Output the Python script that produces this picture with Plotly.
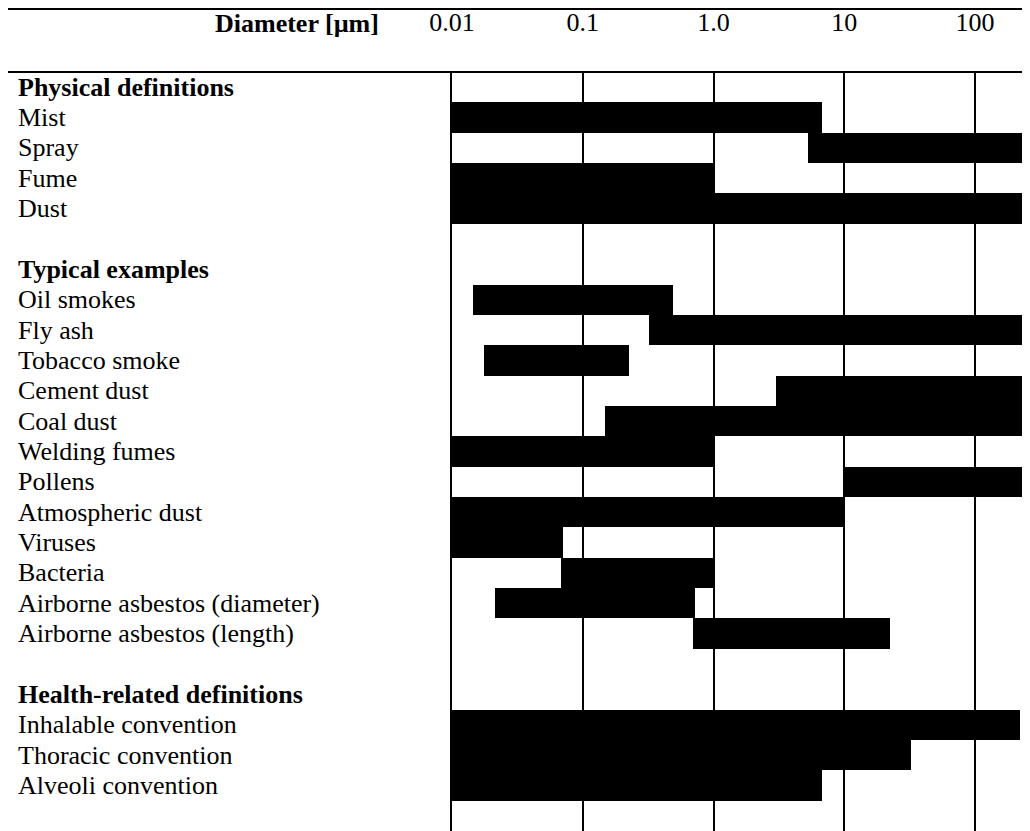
import plotly.graph_objects as go

# size ranges in micrometres; 1000 = open-ended (beyond the chart edge)
physical_names = ["Mist", "Spray", "Fume", "Dust"]
physical_low = [0.01, 5.3, 0.01, 0.01]
physical_high = [6.7, 1000, 1.0, 1000]

example_names = ["Oil smokes", "Fly ash", "Tobacco smoke", "Cement dust", "Coal dust",
                 "Welding fumes", "Pollens", "Atmospheric dust", "Viruses", "Bacteria",
                 "Airborne asbestos (diameter)", "Airborne asbestos (length)"]
example_low = [0.0145, 0.32, 0.0176, 3.0, 0.148, 0.01, 10, 0.01, 0.01, 0.068, 0.0214, 0.70]
example_high = [0.49, 1000, 0.225, 1000, 1000, 1.0, 1000, 10, 0.071, 1.0, 0.72, 22.3]

health_names = ["Inhalable convention", "Thoracic convention", "Alveoli convention"]
health_low = [0.01, 0.01, 0.01]
health_high = [220, 32.3, 6.7]

section_titles = ["Physical definitions", "Typical examples", "Health-related definitions"]

tick_vals = [0.01, 0.1, 1, 10, 100]
tick_text = ["0.01", "0.1", "1.0", "10", "100"]

FONT = "Times New Roman, Liberation Serif, serif"

# build rows: section title, items, blank row
labels, bold, lows, highs = [], [], [], []
for title, names, lo, hi in zip(section_titles,
                                [physical_names, example_names, health_names],
                                [physical_low, example_low, health_low],
                                [physical_high, example_high, health_high]):
    labels.append(title); bold.append(True); lows.append(None); highs.append(None)
    for n, a, b in zip(names, lo, hi):
        labels.append(n); bold.append(False); lows.append(a); highs.append(b)
    labels.append(""); bold.append(False); lows.append(None); highs.append(None)

rows = list(range(len(labels)))
bar_y = [r for r in rows if lows[r] is not None]
bar_base = [lows[r] for r in bar_y]
bar_len = [highs[r] - lows[r] for r in bar_y]

fig = go.Figure()
fig.add_trace(go.Bar(y=bar_y, x=bar_len, base=bar_base, orientation="h",
                     width=1.0, marker=dict(color="black", line=dict(width=0)),
                     hoverinfo="skip", showlegend=False))

# page body adds an 8px offset, so the figure is 8px smaller on each axis
W, H = 1022, 823
top = 64
for r, (lab, b) in enumerate(zip(labels, bold)):
    if not lab:
        continue
    fig.add_annotation(x=8 / W, xref="paper", y=r, yref="y", xanchor="left",
                       text=f"<b>{lab}</b>" if b else lab, showarrow=False,
                       font=dict(family=FONT, size=26, color="black"))

fig.add_annotation(x=289 / W, xref="paper", y=1 + (top - 16) / (H - top), yref="paper",
                   xanchor="center", yanchor="middle", text="<b>Diameter [µm]</b>",
                   showarrow=False, font=dict(family=FONT, size=26, color="black"))

for yp in [1 + (top - 1) / (H - top), 1.0]:
    fig.add_shape(type="line", xref="paper", yref="paper", x0=0, x1=1, y0=yp, y1=yp,
                  line=dict(color="black", width=2))

fig.update_layout(
    template="none",
    width=W, height=H,
    margin=dict(l=0, r=0, t=top, b=0, pad=0),
    paper_bgcolor="white", plot_bgcolor="white",
    bargap=0,
    xaxis=dict(type="log", domain=[444 / W, 1], range=[-2, 2.42], side="top",
               automargin=False,
               tickvals=tick_vals, ticktext=tick_text, showgrid=True,
               gridcolor="black", gridwidth=2, zeroline=False, showline=False,
               ticks="outside", ticklen=30, tickcolor="rgba(0,0,0,0)",
               tickfont=dict(family=FONT, size=26, color="black")),
    yaxis=dict(range=[len(labels) - 0.5, -0.5], showticklabels=False, showgrid=False,
               automargin=False, ticks="",
               zeroline=False, showline=True, linecolor="black", linewidth=2),
)

fig.write_html("out.html")
